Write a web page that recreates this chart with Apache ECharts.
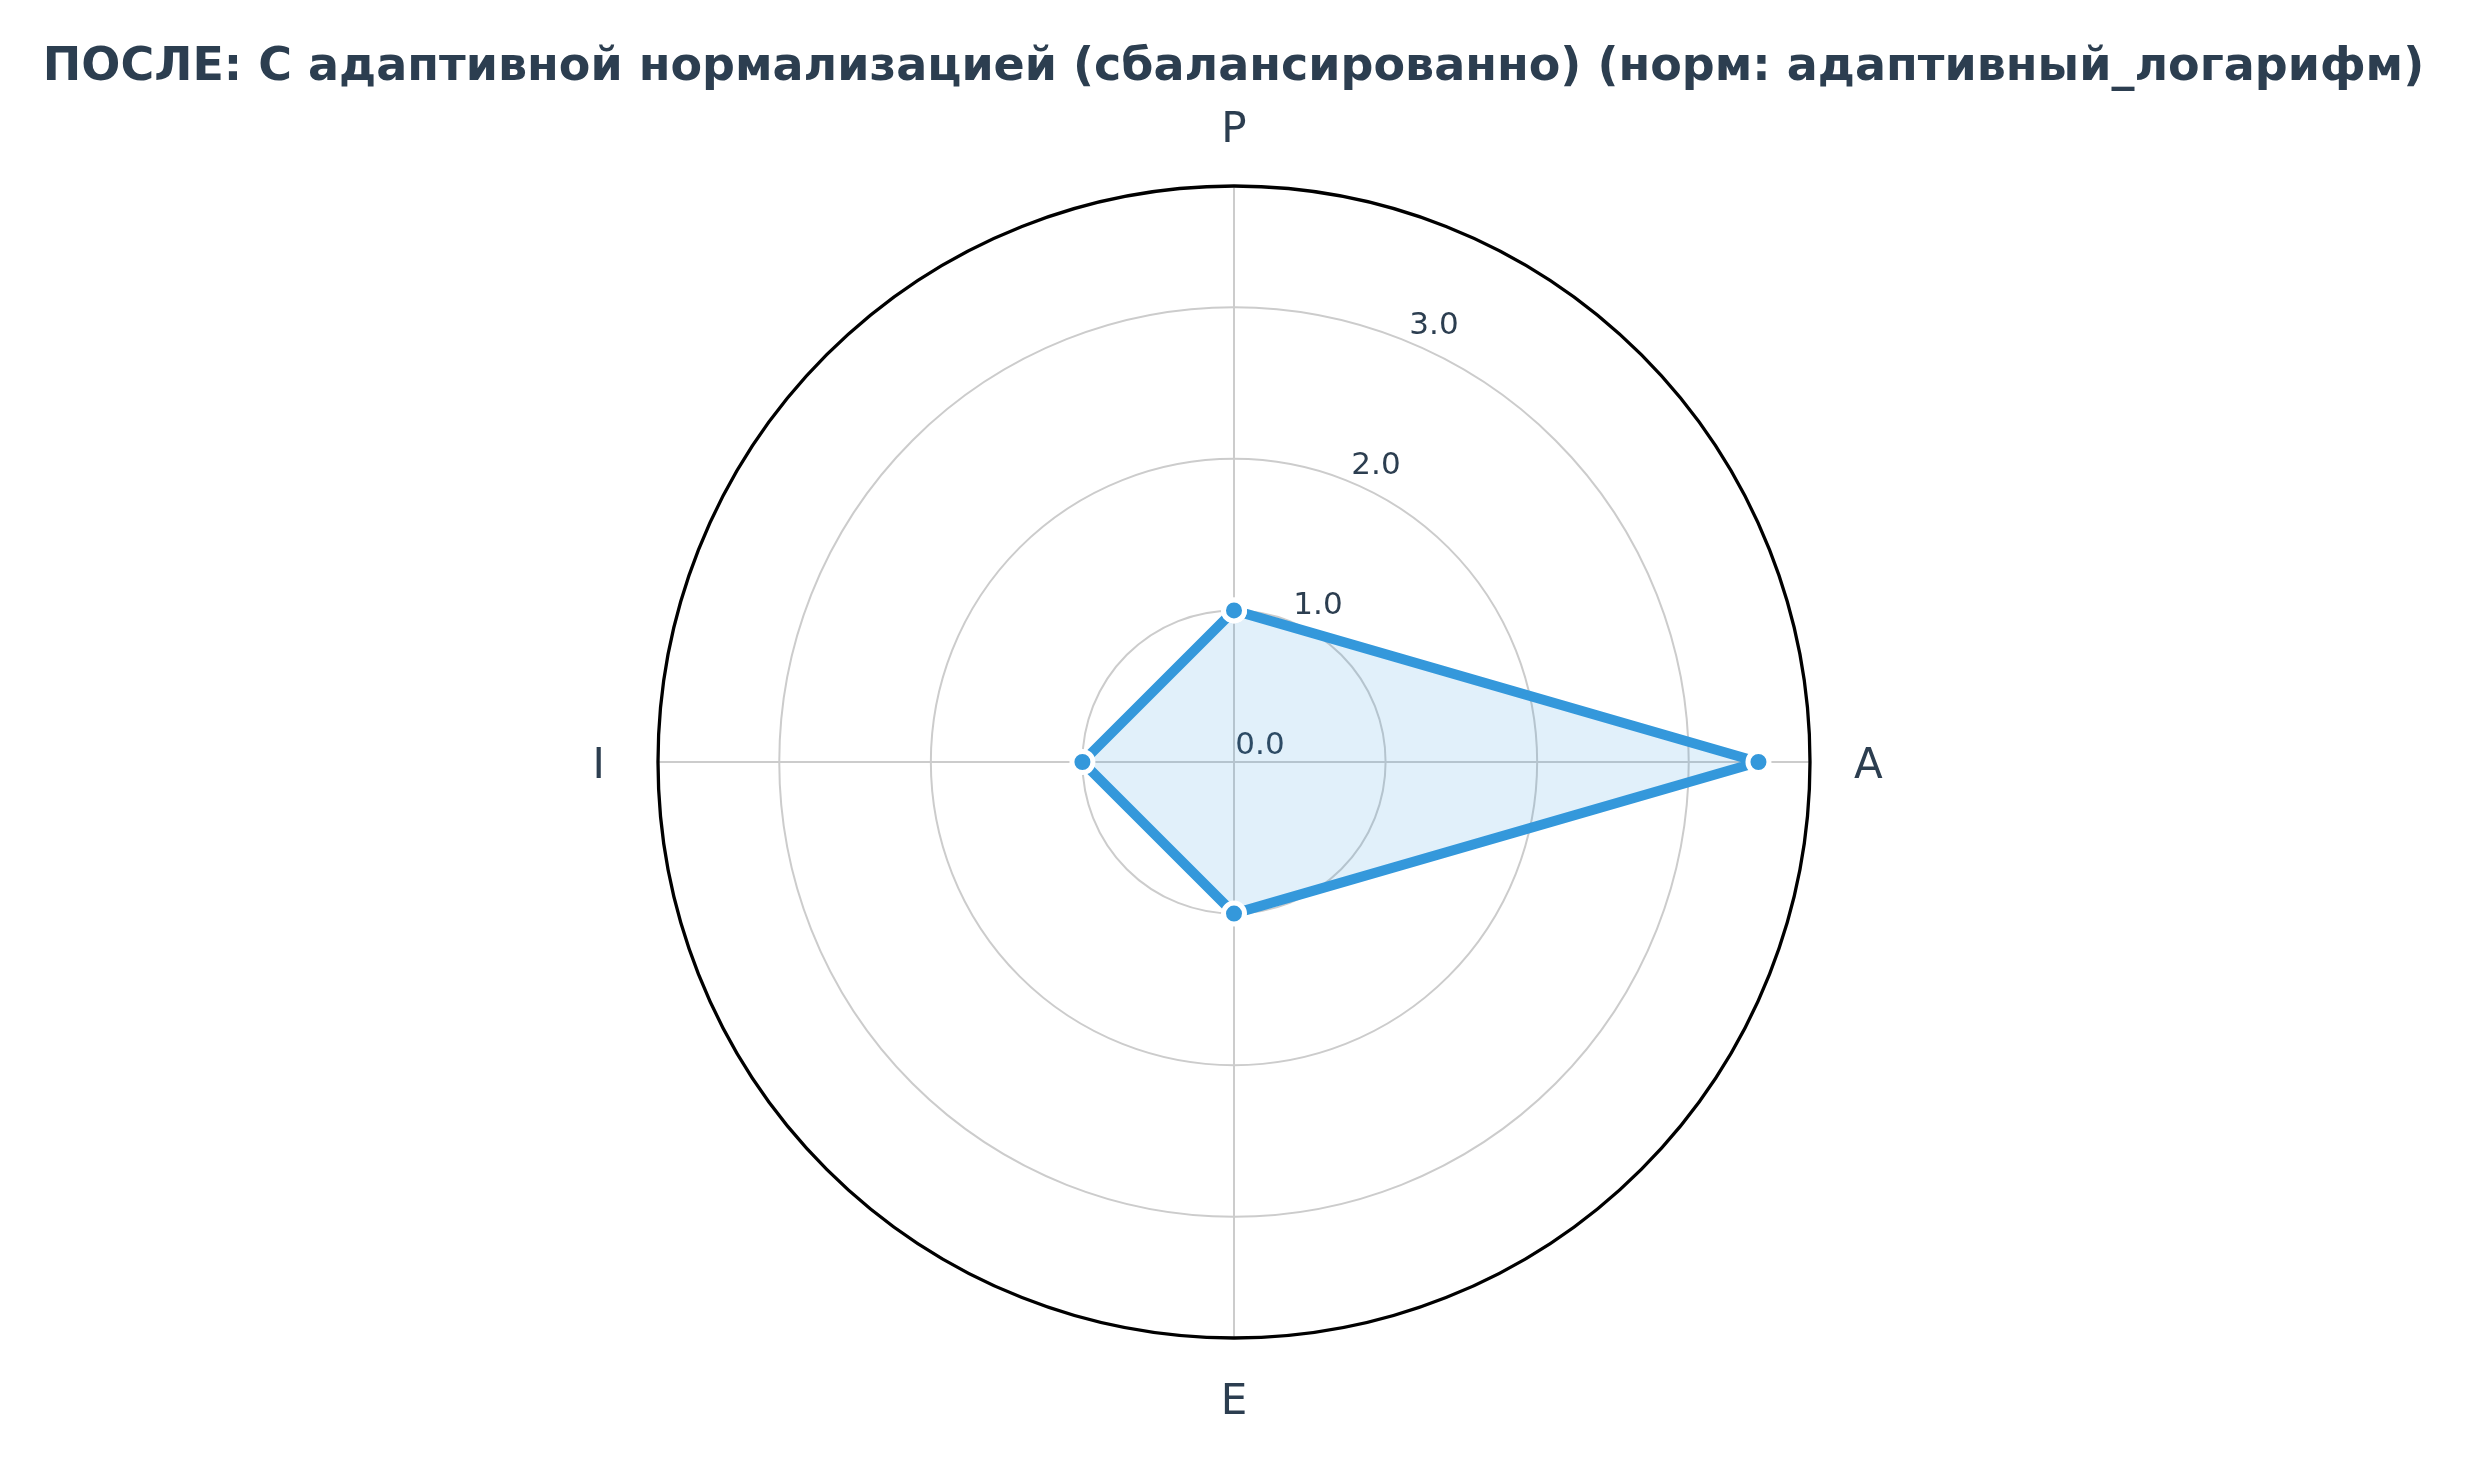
<!DOCTYPE html>
<html>
<head>
<meta charset="utf-8">
<script src="https://cdn.jsdelivr.net/npm/echarts@6/dist/echarts.min.js"></script>
<style>html,body{margin:0;padding:0;background:#fff;}#chart{width:2467px;height:1464px;}</style>
</head>
<body>
<div id="chart"></div>
<script>
const titleText = 'ПОСЛЕ: С адаптивной нормализацией (сбалансированно) (норм: адаптивный_логарифм)';
const categories = ['P', 'A', 'E', 'I'];
const values = [1.0, 3.46, 1.0, 1.0];
const radiusMax = 3.8;
const radiusTicks = [0, 1, 2, 3];

const step = 360 / categories.length;
const lineData = categories.map((c, i) => [values[i], i * step]);
lineData.push([values[0], 360]);

const textColor = '#2c3e50';
const gridColor = '#cccccc';
const font = 'DejaVu Sans';
const labelFont = {fontFamily: font, fontSize: 42, color: textColor};
const labelStyleKeys = ['n', 'e', 'n', 'w'];

const chart = echarts.init(document.getElementById('chart'), null, {renderer: 'canvas'});
chart.setOption({
  backgroundColor: '#ffffff',
  animation: false,
  title: {
    text: titleText,
    left: 'center',
    top: 40,
    textStyle: {fontFamily: font, fontSize: 46, fontWeight: 'bold', color: textColor}
  },
  polar: [
    {center: [1234, 762], radius: 576},
    {center: [1260, 746], radius: 576}
  ],
  angleAxis: [
    {
      polarIndex: 0, type: 'value', min: 0, max: 360, interval: step,
      startAngle: 90, clockwise: true,
      axisLine: {show: true, lineStyle: {color: '#000000', width: 3.3}},
      axisTick: {show: false},
      splitLine: {show: true, lineStyle: {color: gridColor, width: 2}},
      axisLabel: Object.assign({
        show: true, margin: 34, padding: [10, 7, 0, 7],
        formatter: v => {
          const i = Math.round(v / step);
          const c = v < 360 ? categories[i] : undefined;
          if (c === undefined) return '';
          return '{' + labelStyleKeys[i] + '|' + c + '}';
        },
        rich: {
          n: Object.assign({}, labelFont),
          e: Object.assign({padding: [0, 0, 0, 3]}, labelFont),
          w: Object.assign({padding: [0, 12, 0, 0]}, labelFont)
        }
      }, labelFont)
    },
    {
      polarIndex: 1, type: 'value', min: 0, max: 360, startAngle: 67.5,
      axisLine: {show: false}, axisTick: {show: false},
      splitLine: {show: false}, axisLabel: {show: false}
    }
  ],
  radiusAxis: [
    {
      polarIndex: 0, type: 'value', min: 0, max: radiusMax, interval: 1,
      axisLine: {show: false}, axisTick: {show: false}, axisLabel: {show: false},
      splitLine: {show: true, lineStyle: {color: gridColor, width: 2}}
    },
    {
      polarIndex: 1, type: 'value', min: 0, max: radiusMax, interval: 1,
      axisLine: {show: false}, axisTick: {show: false}, splitLine: {show: false},
      axisLabel: {
        show: true, margin: 0, align: 'center', verticalAlign: 'middle',
        fontFamily: font, fontSize: 31, color: textColor,
        formatter: v => radiusTicks.indexOf(v) >= 0 ? v.toFixed(1) : ''
      }
    }
  ],
  series: [{
    type: 'line',
    coordinateSystem: 'polar',
    polarIndex: 0,
    data: lineData,
    symbol: 'circle',
    symbolSize: 21,
    lineStyle: {color: '#3498db', width: 10},
    itemStyle: {color: '#3498db', borderColor: '#ffffff', borderWidth: 5},
    areaStyle: {color: '#3498db', opacity: 0.15},
    clip: false
  }]
});
</script>
</body>
</html>
